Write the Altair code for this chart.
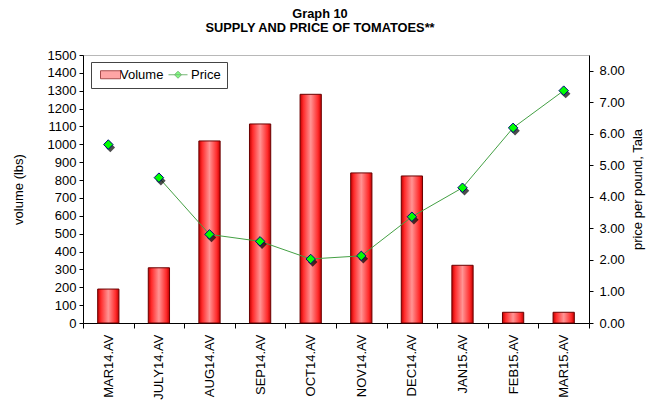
import altair as alt
import pandas as pd

months = ["MAR14.AV", "JULY14.AV", "AUG14.AV", "SEP14.AV", "OCT14.AV",
          "NOV14.AV", "DEC14.AV", "JAN15.AV", "FEB15.AV", "MAR15.AV"]
volume = [190, 309, 1019, 1114, 1280, 840, 823, 323, 60, 60]
price = [5.66, 4.61, 2.81, 2.59, 2.03, 2.13, 3.37, 4.29, 6.19, 7.37]
# MAR14 price point is not joined to the line
price_line = [None, 4.61, 2.81, 2.59, 2.03, 2.13, 3.37, 4.29, 6.19, 7.37]
vol_ticks = list(range(0, 1501, 100))
price_ticks = [0, 1, 2, 3, 4, 5, 6, 7, 8]

df = pd.DataFrame({"month": months, "volume": volume, "price": price,
                   "price_line": price_line, "series": ["Price"] * len(months)})

FONT = "Liberation Sans"

x = alt.X("month:N", sort=months,
          scale=alt.Scale(paddingInner=0, paddingOuter=0),
          axis=alt.Axis(title=None, labelAngle=-90, tickBand="extent", tickSize=5,
                        labelPadding=6, domainColor="black", tickColor="black"))

grad = alt.Gradient(
    gradient="linear", x1=0, x2=1, y1=0, y2=0,
    stops=[alt.GradientStop(color="#C00000", offset=0),
           alt.GradientStop(color="#FF2A2A", offset=0.15),
           alt.GradientStop(color="#FF9494", offset=0.5),
           alt.GradientStop(color="#FF2A2A", offset=0.85),
           alt.GradientStop(color="#C00000", offset=1)])

bars = alt.Chart(df).mark_bar(fill=grad, stroke="#6A0000", strokeWidth=1,
                              width=alt.RelativeBandSize(0.42)).encode(
    x=x,
    y=alt.Y("volume:Q", scale=alt.Scale(domain=[0, 1500], nice=False),
            axis=alt.Axis(title="volume (lbs)", values=vol_ticks, orient="left", format="d",
                          tickSize=4, labelPadding=3, titlePadding=22, labelFlush=False))
)

price_axis = alt.Axis(title="price per pound, Tala", values=price_ticks, format=".2f",
                      orient="right", tickSize=4, labelPadding=6, titlePadding=20,
                      titleAngle=270, labelFlush=False)
py = alt.Y("price:Q", scale=alt.Scale(domain=[0, 8.5], nice=False), axis=price_axis)

line = alt.Chart(df).mark_line(color="#44A044", strokeWidth=1).encode(
    x=x,
    y=alt.Y("price_line:Q", scale=alt.Scale(domain=[0, 8.5], nice=False), axis=price_axis)
)

shadow = alt.Chart(df).mark_point(shape="diamond", filled=True, color="black",
                                  size=90, opacity=0.7, xOffset=2, yOffset=3).encode(x=x, y=py)

dom = ["Volume", "Price"]
vol_path = "M-0.6,-0.8H3.4V0.8H-0.6Z"
price_path = "M-1.2,0H2.6M0.7,-0.7L1.4,0L0.7,0.7L0,0Z"

legend_pts = alt.Chart(df).mark_point(size=1, filled=True).encode(
    x=x, y=py,
    fill=alt.Fill("series:N", scale=alt.Scale(domain=dom, range=["#FF4A4A", "#00FF00"]),
                  legend=alt.Legend(title=None, orient="none", legendX=8, legendY=7,
                                    direction="horizontal", strokeColor="#444444",
                                    fillColor="white", padding=6, labelFont=FONT,
                                    labelFontSize=13, labelColor="black",
                                    symbolSize=100, symbolStrokeWidth=1,
                                    labelOffset=10, columnPadding=2)),
    stroke=alt.Stroke("series:N", scale=alt.Scale(domain=dom, range=["#800000", "#3C9A3C"])),
    shape=alt.Shape("series:N", scale=alt.Scale(domain=dom, range=[vol_path, price_path])),
)

pts = alt.Chart(df).mark_point(shape="diamond", filled=True, fill="#00FF00",
                               stroke="#000080", strokeWidth=1, size=90,
                               opacity=1).encode(x=x, y=py)

price_layer = alt.layer(line, shadow, legend_pts, pts)

chart = alt.layer(bars, price_layer).resolve_scale(y="independent").properties(
    width=506, height=268,
    autosize=alt.AutoSizeParams(type="none"),
    padding={"left": 75, "top": 47, "right": 72, "bottom": 81},
    title=alt.TitleParams(["Graph 10", "SUPPLY AND PRICE OF TOMATOES**"],
                          font=FONT, fontSize=12.8, fontWeight="bold", color="black",
                          anchor="middle", dx=-16, offset=14, lineHeight=14),
).configure_view(stroke="#B8B8B8").configure_axis(
    labelFont=FONT, labelFontSize=13, labelColor="black",
    titleFont=FONT, titleFontSize=13, titleFontWeight="normal", titleColor="black",
    domainColor="black", tickColor="black", grid=False,
)

chart.save("out.html", embed_options={"renderer": "svg", "actions": False})
